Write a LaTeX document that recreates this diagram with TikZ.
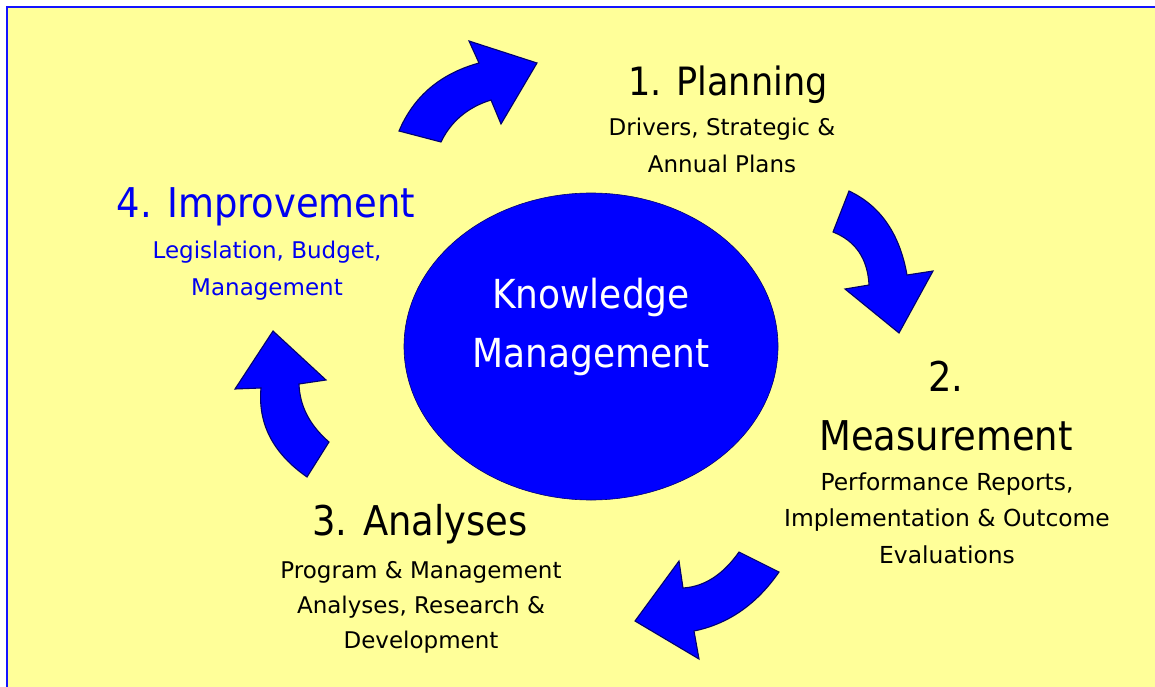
\documentclass[tikz,border=0pt]{standalone}
\usepackage{fontspec}
\usetikzlibrary{shapes.geometric}
\setmainfont{DejaVu Sans}
\newfontfamily\condfont{DejaVu Sans Condensed}
\definecolor{paper}{HTML}{FFFF99}
\definecolor{cycleblue}{HTML}{0000FF}
\definecolor{rimblue}{HTML}{000070}
\definecolor{frameblue}{HTML}{1414FF}
\definecolor{improveblue}{HTML}{0000F0}
\tikzset{
  stagetitle/.style={font=\condfont\fontsize{41}{59}\selectfont, align=center, anchor=base, inner sep=0pt},
  stagenote/.style={font=\fontsize{23}{36}\selectfont, align=center, anchor=base, inner sep=0pt},
  bigarrow/.style={fill=cycleblue, draw=rimblue, line width=1.1pt, line join=miter},
}
\begin{document}
\begin{tikzpicture}[x=1pt,y=-1pt]
\useasboundingbox (0,0) rectangle (1155,687);
% page frame
\draw[frameblue, line width=2.4pt, fill=paper] (7,7) rectangle (1175,705);

% central hub
\node[ellipse, fill=cycleblue, draw=rimblue, line width=0.6pt, minimum width=374pt, minimum height=307pt, inner sep=0pt] (core) at (591,346.5) {};
% (base anchor of a multi-line node sits on its last line)
\node[stagetitle, font=\condfont\fontsize{40}{59}\selectfont, text=white] (coretext) at (591,367) {Knowledge\\Management};

% cycle arrows, clockwise round the hub
\draw[bigarrow] (399,131) -- (441,142)
  .. controls (451,121.3) and (467.7,107.3) .. (491,100)
  -- (501,124) -- (537,63) -- (469,41) -- (479,63)
  .. controls (440.3,73.7) and (413.7,96.3) .. (399,131) -- cycle;
\draw[bigarrow] (849,191)
  .. controls (880.3,205.7) and (899.7,233.7) .. (907,275)
  -- (933,271) -- (899,333) -- (845,289) -- (869,285)
  .. controls (867.7,258.7) and (855.7,241) .. (833,232) -- cycle;
\draw[bigarrow] (739,552) -- (779,572)
  .. controls (756.7,604.3) and (728.3,624) .. (694,631)
  -- (699,659) -- (635,621) -- (679,561) -- (683,588)
  .. controls (704.3,586.7) and (723,574.7) .. (739,552) -- cycle;
\draw[bigarrow] (307,477) -- (329,442)
  .. controls (309.7,425.3) and (299.7,406) .. (299,384)
  -- (326,380) -- (273,331) -- (235,389) -- (261,388)
  .. controls (257.7,423.7) and (273,453.3) .. (307,477) -- cycle;

% stage 1
\node[stagetitle, font=\condfont\fontsize{39}{59}\selectfont] (plan) at (728,96) {1. Planning};
\node[stagenote] (plannote) at (722,172) {Drivers, Strategic \&\\Annual Plans};

% stage 2
\node[stagetitle] (measure) at (946,450) {2.\\Measurement};
\node[stagenote, font=\fontsize{23.4}{36.5}\selectfont] (measurenote) at (947,563) {Performance Reports,\\Implementation \& Outcome\\Evaluations};

% stage 3
\node[stagetitle] (analyse) at (420,535) {3. Analyses};
\node[stagenote, font=\fontsize{23}{35}\selectfont] (analysenote) at (421,648) {Program \& Management\\Analyses, Research \&\\Development};

% stage 4
\node[stagetitle, text=improveblue] (improve) at (266,217) {4. Improvement};
\node[stagenote, text=improveblue, font=\fontsize{23}{37}\selectfont] (improvenote) at (267,295) {Legislation, Budget,\\Management};
\end{tikzpicture}
\end{document}
